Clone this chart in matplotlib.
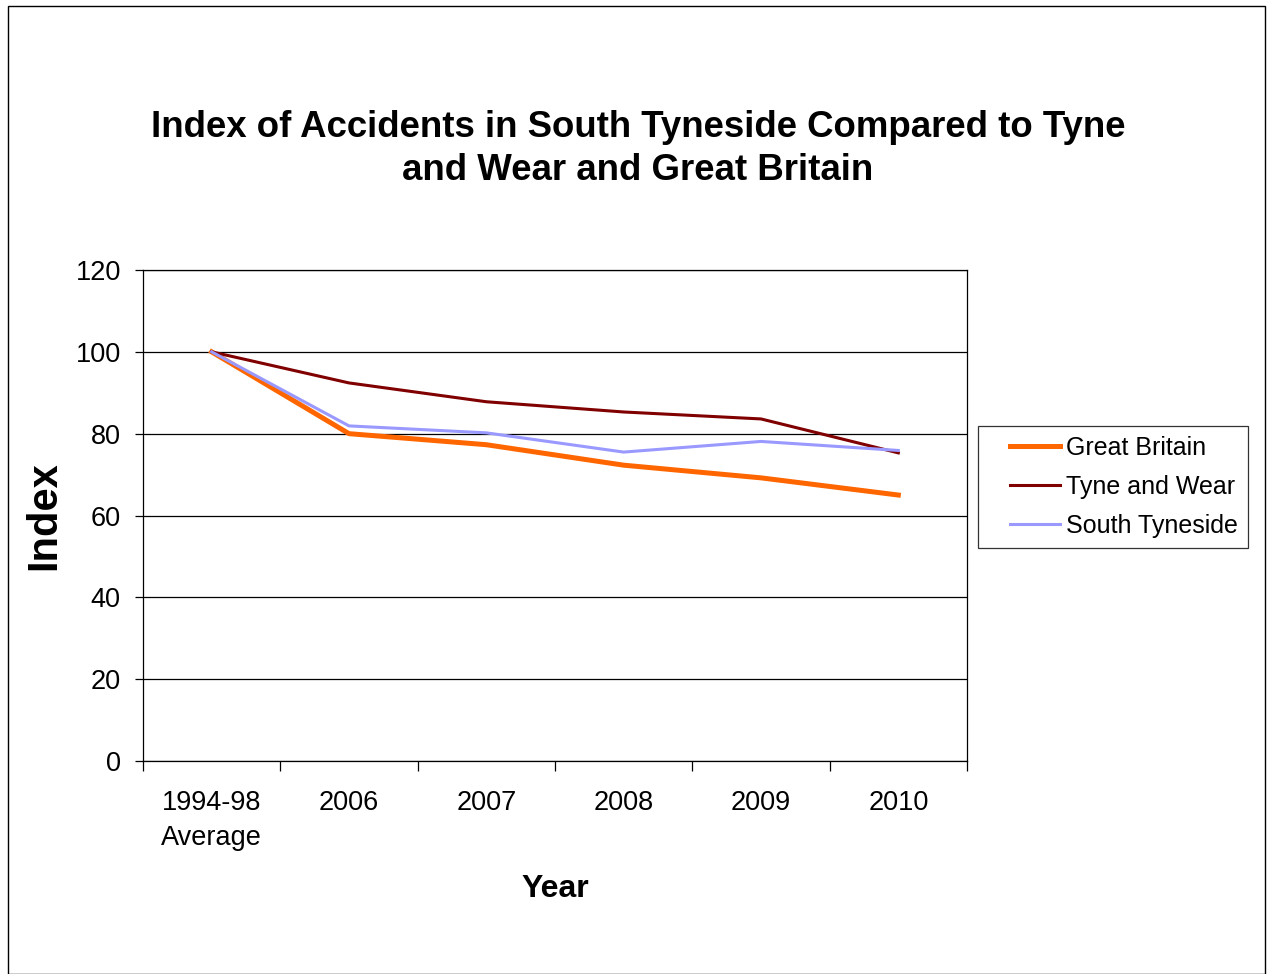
import matplotlib
matplotlib.use("Agg")
import matplotlib.pyplot as plt
from matplotlib.patches import Rectangle
from matplotlib.legend_handler import HandlerLine2D

plt.rcParams['font.family'] = ['Liberation Sans', 'DejaVu Sans']

categories = ['1994-98\nAverage', '2006', '2007', '2008', '2009', '2010']
great_britain = [100, 80.0, 77.3, 72.3, 69.2, 65.0]
tyne_and_wear = [100, 92.4, 87.8, 85.3, 83.6, 75.3]
south_tyneside = [100, 81.9, 80.2, 75.5, 78.1, 75.9]

fig = plt.figure(figsize=(12.68, 9.74), dpi=100)
ax = fig.add_axes([143 / 1268, 1 - 761 / 974, (967 - 143) / 1268, (761 - 270) / 974])

x = list(range(len(categories)))
ax.plot(x, great_britain, color='#FF6600', lw=3.6, label='Great Britain', zorder=3)
ax.plot(x, tyne_and_wear, color='#800000', lw=2.2, label='Tyne and Wear', zorder=3)
ax.plot(x, south_tyneside, color='#9999FF', lw=2.2, label='South Tyneside', zorder=3)

ax.set_xlim(-0.5, len(categories) - 0.5)
ax.set_ylim(0, 120)
ax.set_yticks(range(0, 121, 20))
ax.yaxis.grid(True, color='black', lw=0.9)
ax.set_axisbelow(True)

# ticks on category boundaries, labels at category centres
ax.set_xticks([i - 0.5 for i in range(len(categories) + 1)])
ax.set_xticklabels([])
ax.set_xticks(x, minor=True)
ax.set_xticklabels(categories, minor=True, fontsize=19.5, linespacing=1.45)
ax.tick_params(axis='x', which='major', direction='out', length=7, width=0.9)
ax.tick_params(axis='x', which='minor', length=0, pad=21)
ax.tick_params(axis='y', direction='out', length=6, width=0.9, labelsize=19.5, pad=10)
for s in ax.spines.values():
    s.set_linewidth(0.9)

ax.set_xlabel('Year', fontsize=23, fontweight='bold', labelpad=16.5)
ax.set_ylabel('Index', fontsize=30, fontweight='bold', labelpad=8)

fig.text(0.503, 1 - 149 / 974,
         'Index of Accidents in South Tyneside Compared to Tyne\nand Wear and Great Britain',
         ha='center', va='center', fontsize=26.4, fontweight='bold', linespacing=1.33)

leg = fig.legend(loc='center left', bbox_to_anchor=(978 / 1268, 1 - 487 / 974),
                 fontsize=18, frameon=True, fancybox=False, handlelength=2.88,
                 borderpad=0.4, labelspacing=0.6, handletextpad=0.25, borderaxespad=0,
                 handler_map={plt.Line2D: HandlerLine2D(xpad=0.88)})
leg.get_frame().set_edgecolor('black')
leg.get_frame().set_linewidth(0.9)

fig.patches.append(Rectangle((8 / 1268, 0), (1265 - 8) / 1268, 1 - 6 / 974,
                             transform=fig.transFigure, fill=False,
                             edgecolor='black', lw=1.0))

fig.savefig('out.png', dpi=100)
